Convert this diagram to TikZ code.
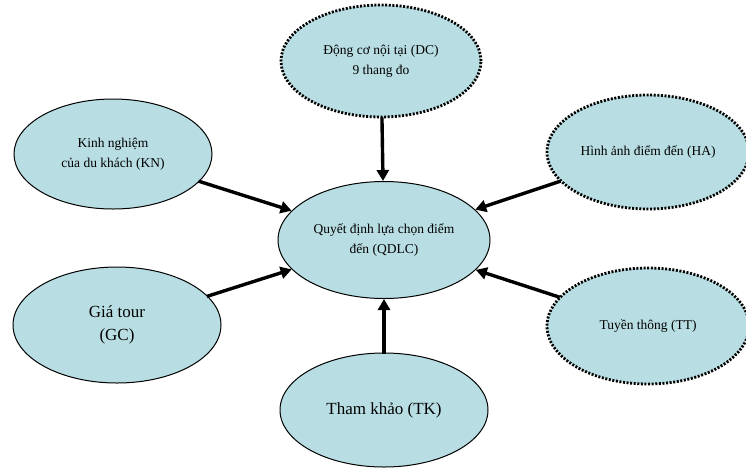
\documentclass[tikz,border=0pt]{standalone}
\usepackage{fontspec}
\setmainfont{Liberation Serif}
\usetikzlibrary{shapes.geometric,arrows.meta}
\definecolor{bubble}{RGB}{184,222,227}
\tikzset{
  bub/.style={ellipse, fill=bubble, inner sep=0pt, align=center,
    font=\fontsize{13.5}{20}\selectfont},
  solidbub/.style={bub, draw=black, line width=1pt},
  dotbub/.style={bub, draw=black, line width=2.8pt, dash pattern=on 2pt off 1.6pt},
  big/.style={font=\fontsize{17}{23}\selectfont},
  link/.style={line width=3.4pt, -{Triangle[length=11pt,width=12pt]}, shorten <=-1pt}
}
\begin{document}
\begin{tikzpicture}[x=1pt,y=-1pt]
\useasboundingbox (0,0) rectangle (746,467);
\node[solidbub, minimum width=212pt, minimum height=117pt] (qdlc) at (384,240) {Quyết định lựa chọn điểm\\đến (QDLC)};
\node[dotbub, minimum width=200pt, minimum height=112pt] (dc) at (381,61) {Động cơ nội tại (DC)\\9 thang đo};
\node[solidbub, minimum width=198pt, minimum height=110pt] (kn) at (113,154) {Kinh nghiệm\\của du khách (KN)};
\node[dotbub, minimum width=202pt, minimum height=114pt] (ha) at (648,152) {Hình ảnh điểm đến (HA)};
\node[solidbub, big, minimum width=208pt, minimum height=116pt] (gc) at (117,325) {Giá tour\\(GC)};
\node[dotbub, minimum width=202pt, minimum height=116pt] (tt) at (648,326) {Tuyền thông (TT)};
\node[solidbub, big, minimum width=208pt, minimum height=114pt] (tk) at (384,410) {Tham khảo (TK)};
\draw[link] (dc) -- (qdlc);
\draw[link] (kn) -- (qdlc);
\draw[link] (ha) -- (qdlc);
\draw[link] (gc) -- (qdlc);
\draw[link] (tt) -- (qdlc);
\draw[link] (tk) -- (qdlc);
\end{tikzpicture}
\end{document}
